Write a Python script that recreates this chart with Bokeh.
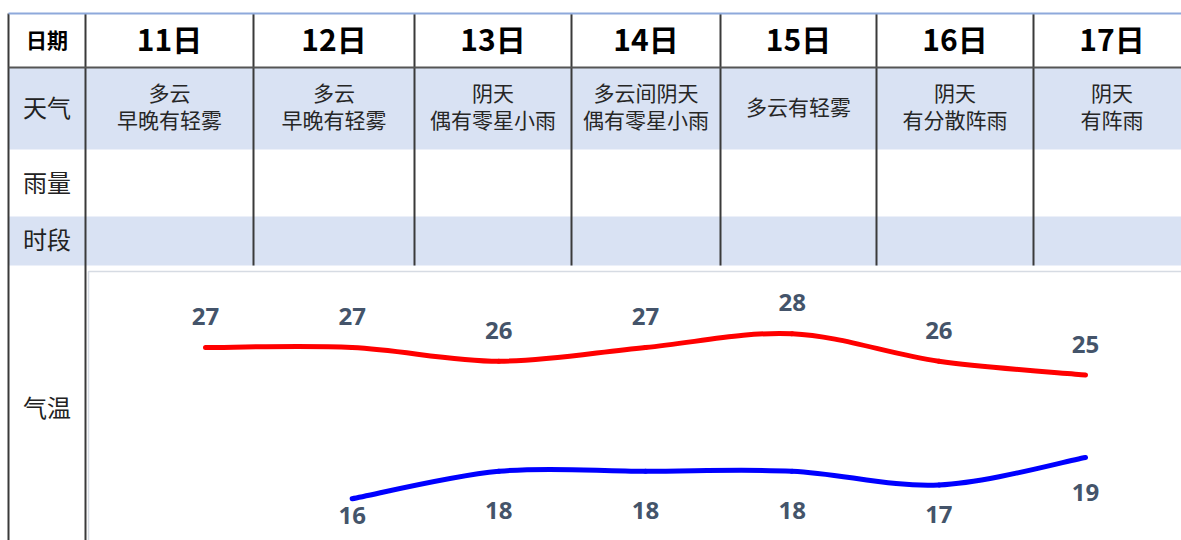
from bokeh.plotting import figure
from bokeh.models import Range1d, ColumnDataSource
from bokeh.core.properties import value
from bokeh.embed import file_html
from bokeh.resources import INLINE

# ---------------- data ----------------
dates = ["11日", "12日", "13日", "14日", "15日", "16日", "17日"]
weather = ["多云\n早晚有轻雾", "多云\n早晚有轻雾", "阴天\n偶有零星小雨",
           "多云间阴天\n偶有零星小雨", "多云有轻雾", "阴天\n有分散阵雨", "阴天\n有阵雨"]
row_labels = ["天气", "雨量", "时段", "气温"]
header_label = "日期"
high_temp = [27, 27, 26, 27, 28, 26, 25]
low_temp = [None, 16, 18, 18, 18, 17, 19]

# ---------------- layout (page pixels) ----------------
W, H = 1181, 540
OFF = 0
col_edges = [8, 85, 253, 414, 571, 720, 876, 1033, 1190]
row_edges = [13, 67, 149, 216, 265, 540]
row_label_y = [106, 181, 238, 406]
low_label_dy = [17, 39, 39, 39, 29, 35]
high_label_dy = -31


def f(v):
    return v - OFF


p = figure(width=W, height=H, x_range=Range1d(0, W), y_range=Range1d(H, 0),
           output_backend="svg", toolbar_location=None, min_border=0,
           x_axis_location=None, y_axis_location=None)
p.grid.visible = False
p.outline_line_color = None
p.background_fill_color = "white"
p.border_fill_color = "white"

BLUE_BG = "#D9E2F3"
LINE = "#3A3A3A"
CJK = value("Noto Sans CJK SC")

# shaded rows
p.quad(left=[f(col_edges[0])] * 2, right=[W, W], top=[f(row_edges[1]), f(row_edges[3])],
       bottom=[f(row_edges[2]), f(row_edges[4])], fill_color=BLUE_BG, line_color=None)

# chart area
p.quad(left=[f(88)], right=[W + 5], top=[f(271)], bottom=[H + 5],
       fill_color="white", line_color="#D6DBE3", line_width=1.5)

# vertical lines of day columns
inner = col_edges[2:-1]
p.segment(x0=[f(x) for x in inner], x1=[f(x) for x in inner],
          y0=[f(row_edges[0])] * len(inner), y1=[f(row_edges[4])] * len(inner),
          line_color=LINE, line_width=2)
# left two full-height lines
p.segment(x0=[f(col_edges[0]), f(col_edges[1])], x1=[f(col_edges[0]), f(col_edges[1])],
          y0=[f(row_edges[0])] * 2, y1=[H + 5] * 2, line_color=LINE, line_width=2)
# header bottom line
p.segment(x0=[f(col_edges[0])], x1=[W], y0=[f(row_edges[1])], y1=[f(row_edges[1])],
          line_color="#555555", line_width=2)
# top line
p.segment(x0=[f(col_edges[0])], x1=[W], y0=[f(row_edges[0])], y1=[f(row_edges[0])],
          line_color="#8EA9DB", line_width=2)

# header texts
centers = [f((col_edges[i] + col_edges[i + 1]) / 2) for i in range(1, len(col_edges) - 1)]
label_x = f((col_edges[0] + col_edges[1]) / 2)
p.text(x=[label_x], y=[f(38)], text=[header_label], text_align="center",
       text_baseline="middle", text_font=CJK, text_font_style="bold",
       text_font_size="21px", text_color="black")
p.text(x=centers, y=[f(37)] * len(dates), text=dates, text_align="center",
       text_baseline="middle", text_font=CJK, text_font_style="bold",
       text_font_size="30px", text_color="black")
# row labels
p.text(x=[label_x] * len(row_labels), y=[f(v) for v in row_label_y], text=row_labels,
       text_align="center", text_baseline="middle", text_font=CJK,
       text_font_size="24px", text_color="#222222")
# weather
p.text(x=centers, y=[f(105)] * len(weather), text=weather, text_align="center",
       text_baseline="middle", text_font=CJK, text_font_size="21px",
       text_color="#262626", text_line_height=0.92)

# ---------------- temperature chart ----------------
day_idx = list(range(len(dates)))
step = 146.67
x0_px = f(205)
p.extra_x_ranges = {"day": Range1d(-x0_px / step, (W - x0_px) / step)}
ppd = 13.75
y27 = f(347)
p.extra_y_ranges = {"temp": Range1d(27 - (H - y27) / ppd, 27 + y27 / ppd)}


def bezier_source(xs, ys):
    pts = [(x, y) for x, y in zip(xs, ys) if y is not None]
    d = dict(x0=[], y0=[], x1=[], y1=[], cx0=[], cy0=[], cx1=[], cy1=[])
    n = len(pts)
    for i in range(n - 1):
        a = pts[i - 1] if i > 0 else pts[i]
        b = pts[i]
        c = pts[i + 1]
        e = pts[i + 2] if i + 2 < n else pts[i + 1]
        d["x0"].append(b[0]); d["y0"].append(b[1])
        d["x1"].append(c[0]); d["y1"].append(c[1])
        d["cx0"].append(b[0] + (c[0] - a[0]) / 6); d["cy0"].append(b[1] + (c[1] - a[1]) / 6)
        d["cx1"].append(c[0] - (e[0] - b[0]) / 6); d["cy1"].append(c[1] - (e[1] - b[1]) / 6)
    return ColumnDataSource(d)


for temps, color in ((high_temp, "#FF0000"), (low_temp, "#0000FF")):
    src = bezier_source(day_idx, temps)
    p.bezier(x0="x0", y0="y0", x1="x1", y1="y1", cx0="cx0", cy0="cy0", cx1="cx1", cy1="cy1",
             source=src, line_color=color, line_width=5, line_cap="round",
             x_range_name="day", y_range_name="temp")

LBL = "#44546A"
hi_src = ColumnDataSource(dict(x=day_idx, y=high_temp, t=[str(v) for v in high_temp]))
p.text(x="x", y="y", text="t", source=hi_src, y_offset=high_label_dy, text_align="center",
       text_baseline="middle", text_font=value("Open Sans"), text_font_style="bold",
       text_font_size="24px", text_color=LBL, x_range_name="day", y_range_name="temp")

lo_x = [i for i, v in zip(day_idx, low_temp) if v is not None]
lo_y = [v for v in low_temp if v is not None]
lo_src = ColumnDataSource(dict(x=lo_x, y=lo_y, t=[str(v) for v in lo_y], dy=low_label_dy))
p.text(x="x", y="y", text="t", source=lo_src, y_offset="dy", text_align="center",
       text_baseline="middle", text_font=value("Open Sans"), text_font_style="bold",
       text_font_size="24px", text_color=LBL, x_range_name="day", y_range_name="temp")

open("out.html", "w").write(file_html(p, INLINE))
